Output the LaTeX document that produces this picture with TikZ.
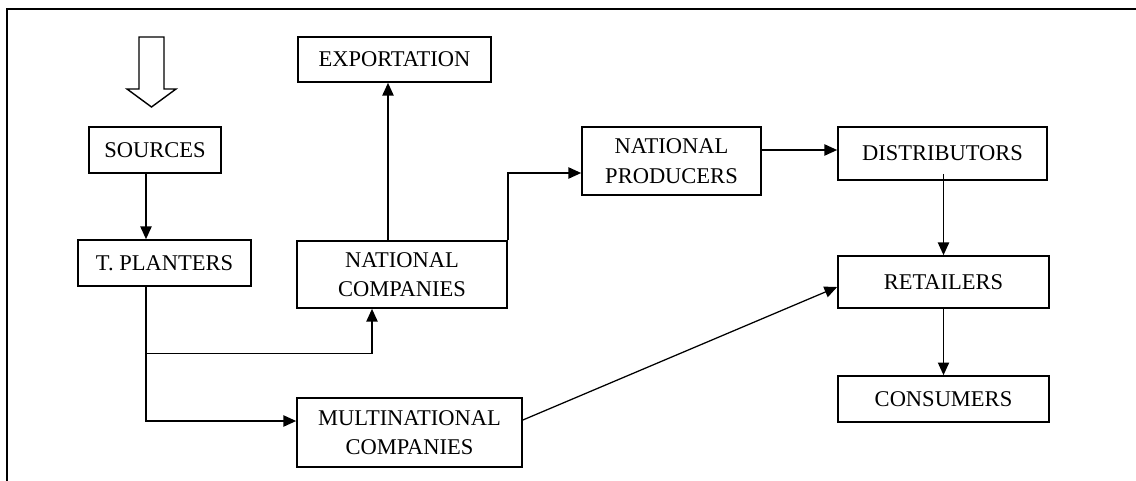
\documentclass[tikz,border=0pt]{standalone}
\usepackage{fontspec}
\setmainfont{Liberation Serif}
\usetikzlibrary{arrows.meta}

\begin{document}
\begin{tikzpicture}[x=0.025cm, y=-0.025cm]
	\tikzstyle{every node}=[font=\fontsize{16}{21}\selectfont]
	\tikzstyle{stage}=[draw, line width=1.2pt, align=center, inner sep=0pt]
	\tikzstyle{flow}=[line width=0.9pt, -{Triangle[length=9pt, width=8pt]}]
	\clip (0, 0) rectangle (1136, 480);
	\draw[line width=1.4pt] (7, 490) |- (1146, 9);
	\draw[line width=1pt] (139, 37) -- (164, 37) -- (164, 89) -- (176, 89) -- (151.5, 107) -- (127, 89) -- (139, 89) -- cycle;

	\node[stage, minimum width=3.3cm, minimum height=1.15cm] (Sources) at (155, 150) {SOURCES};
	\node[stage, minimum width=4.325cm, minimum height=1.15cm] (TPlanters) at (164.5, 263) {T. PLANTERS};
	\node[stage, minimum width=4.825cm, minimum height=1.125cm] (Exportation) at (394.5, 59.5) {EXPORTATION};
	\node[stage, minimum width=5.25cm, minimum height=1.675cm] (NationalCompanies) at (402, 274.5) {NATIONAL\\COMPANIES};
	\node[stage, minimum width=5.625cm, minimum height=1.725cm] (MultinationalCompanies) at (409.5, 432.5) {MULTINATIONAL\\COMPANIES};
	\node[stage, minimum width=4.475cm, minimum height=1.7cm] (NationalProducers) at (671.5, 161) {NATIONAL\\PRODUCERS};
	\node[stage, minimum width=5.225cm, minimum height=1.325cm] (Distributors) at (942.5, 153.5) {DISTRIBUTORS};
	\node[stage, minimum width=5.275cm, minimum height=1.3cm] (Retailers) at (943.5, 282) {RETAILERS};
	\node[stage, minimum width=5.275cm, minimum height=1.15cm] (Consumers) at (943.5, 399) {CONSUMERS};

	\draw[flow](Sources.south -| 146,0)--(TPlanters.north -| 146,0);
	\draw[flow](TPlanters.south -| 146,0)|-(MultinationalCompanies.west |- 0,421);
	\draw[flow](TPlanters.south -| 146,0)++(0, 67)-|(NationalCompanies.south -| 372,0);
	\draw[flow](NationalCompanies.north -| 388,0)--(Exportation.south -| 388,0);
	\draw[flow](NationalCompanies.north east)|-(NationalProducers.west |- 0,173);
	\draw[flow](NationalProducers.east |- 0,150)--(Distributors.west |- 0,150);
	\draw[flow](Distributors.south -| Retailers.north)++(0, -7)--(Retailers.north);
	\draw[flow](Retailers.south)--(Consumers.north);
	\draw[flow](MultinationalCompanies.east |- 0,420)--(Retailers.west |- 0,287);
\end{tikzpicture}
\end{document}
